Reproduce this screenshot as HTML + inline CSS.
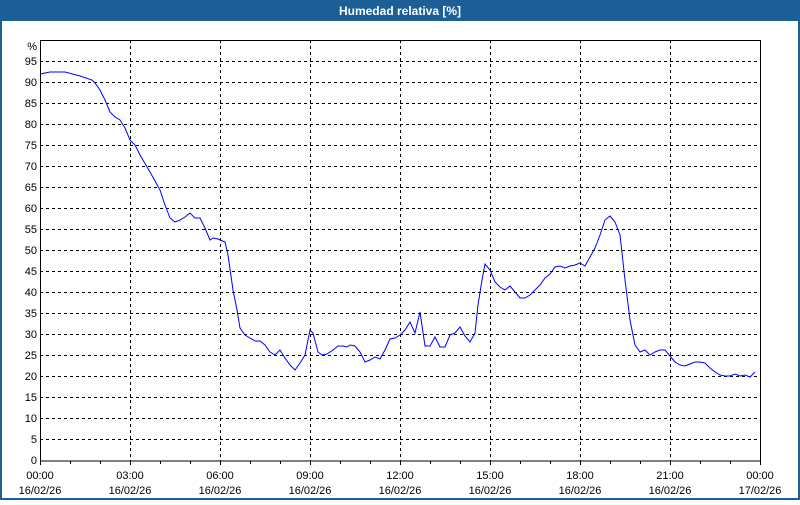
<!DOCTYPE html>
<html><head><meta charset="utf-8"><style>
html,body{margin:0;padding:0;background:#fff}
body{width:800px;height:500px;overflow:hidden;font-family:"Liberation Sans","DejaVu Sans",sans-serif}
</style></head><body>
<svg width="800" height="500" xmlns="http://www.w3.org/2000/svg" font-family="Liberation Sans, DejaVu Sans, sans-serif">
<rect x="0" y="0" width="800" height="500" fill="#1c5f96"/>
<rect x="2" y="21" width="796" height="477" fill="#fff"/>
<text x="400" y="15" fill="#fff" font-size="12" font-weight="bold" text-anchor="middle">Humedad relativa [%]</text>
<g stroke="#000" stroke-width="1" stroke-dasharray="3,3" shape-rendering="crispEdges">
<line x1="40" y1="61.5" x2="760" y2="61.5"/><line x1="40" y1="82.5" x2="760" y2="82.5"/><line x1="40" y1="103.5" x2="760" y2="103.5"/><line x1="40" y1="124.5" x2="760" y2="124.5"/><line x1="40" y1="145.5" x2="760" y2="145.5"/><line x1="40" y1="166.5" x2="760" y2="166.5"/><line x1="40" y1="187.5" x2="760" y2="187.5"/><line x1="40" y1="208.5" x2="760" y2="208.5"/><line x1="40" y1="229.5" x2="760" y2="229.5"/><line x1="40" y1="250.5" x2="760" y2="250.5"/><line x1="40" y1="271.5" x2="760" y2="271.5"/><line x1="40" y1="292.5" x2="760" y2="292.5"/><line x1="40" y1="313.5" x2="760" y2="313.5"/><line x1="40" y1="334.5" x2="760" y2="334.5"/><line x1="40" y1="355.5" x2="760" y2="355.5"/><line x1="40" y1="376.5" x2="760" y2="376.5"/><line x1="40" y1="397.5" x2="760" y2="397.5"/><line x1="40" y1="418.5" x2="760" y2="418.5"/><line x1="40" y1="439.5" x2="760" y2="439.5"/>
<line x1="130.5" y1="40" x2="130.5" y2="461"/><line x1="220.5" y1="40" x2="220.5" y2="461"/><line x1="310.5" y1="40" x2="310.5" y2="461"/><line x1="400.5" y1="40" x2="400.5" y2="461"/><line x1="490.5" y1="40" x2="490.5" y2="461"/><line x1="580.5" y1="40" x2="580.5" y2="461"/><line x1="670.5" y1="40" x2="670.5" y2="461"/>
</g>
<rect x="40.5" y="40.5" width="720" height="420.5" fill="none" stroke="#000" shape-rendering="crispEdges"/>
<g stroke="#000" shape-rendering="crispEdges">
<line x1="40.5" y1="461" x2="40.5" y2="465"/><line x1="70.5" y1="461" x2="70.5" y2="464"/><line x1="100.5" y1="461" x2="100.5" y2="464"/><line x1="130.5" y1="461" x2="130.5" y2="465"/><line x1="160.5" y1="461" x2="160.5" y2="464"/><line x1="190.5" y1="461" x2="190.5" y2="464"/><line x1="220.5" y1="461" x2="220.5" y2="465"/><line x1="250.5" y1="461" x2="250.5" y2="464"/><line x1="280.5" y1="461" x2="280.5" y2="464"/><line x1="310.5" y1="461" x2="310.5" y2="465"/><line x1="340.5" y1="461" x2="340.5" y2="464"/><line x1="370.5" y1="461" x2="370.5" y2="464"/><line x1="400.5" y1="461" x2="400.5" y2="465"/><line x1="430.5" y1="461" x2="430.5" y2="464"/><line x1="460.5" y1="461" x2="460.5" y2="464"/><line x1="490.5" y1="461" x2="490.5" y2="465"/><line x1="520.5" y1="461" x2="520.5" y2="464"/><line x1="550.5" y1="461" x2="550.5" y2="464"/><line x1="580.5" y1="461" x2="580.5" y2="465"/><line x1="610.5" y1="461" x2="610.5" y2="464"/><line x1="640.5" y1="461" x2="640.5" y2="464"/><line x1="670.5" y1="461" x2="670.5" y2="465"/><line x1="700.5" y1="461" x2="700.5" y2="464"/><line x1="730.5" y1="461" x2="730.5" y2="464"/><line x1="760.5" y1="461" x2="760.5" y2="465"/>
</g>
<g font-size="11" fill="#000" text-anchor="end">
<text x="37" y="50">%</text>
<text x="37" y="65">95</text><text x="37" y="86">90</text><text x="37" y="107">85</text><text x="37" y="128">80</text><text x="37" y="149">75</text><text x="37" y="170">70</text><text x="37" y="191">65</text><text x="37" y="212">60</text><text x="37" y="233">55</text><text x="37" y="254">50</text><text x="37" y="275">45</text><text x="37" y="296">40</text><text x="37" y="317">35</text><text x="37" y="338">30</text><text x="37" y="359">25</text><text x="37" y="380">20</text><text x="37" y="401">15</text><text x="37" y="422">10</text><text x="37" y="443">5</text><text x="37" y="464">0</text>
</g>
<g font-size="11" fill="#000" text-anchor="middle">
<text x="40" y="479">00:00</text><text x="40" y="494">16/02/26</text>
<text x="130" y="479">03:00</text><text x="130" y="494">16/02/26</text>
<text x="220" y="479">06:00</text><text x="220" y="494">16/02/26</text>
<text x="310" y="479">09:00</text><text x="310" y="494">16/02/26</text>
<text x="400" y="479">12:00</text><text x="400" y="494">16/02/26</text>
<text x="490" y="479">15:00</text><text x="490" y="494">16/02/26</text>
<text x="580" y="479">18:00</text><text x="580" y="494">16/02/26</text>
<text x="670" y="479">21:00</text><text x="670" y="494">16/02/26</text>
<text x="760" y="479">00:00</text><text x="760" y="494">17/02/26</text>
</g>
<polyline fill="none" stroke="#0000ff" stroke-width="1" points="40,74 50,72 65,72 80,76 92,80 95,83 100,90 105,100 110,112 115,117 120,120 125,128 130,140 135,145 140,155 150,172 160,190 165,205 170,218 175,222 180,220 185,217 190,213 195,218 200,218 205,228 210,240 213,238 218,239 225,242 228,255 233,290 237,310 240,328 245,335 250,338 255,341 260,341 265,345 270,352 275,355 280,350 285,358 290,365 295,370 300,363 305,355 310,330 313,333 318,352 322,355 327,354 333,350 338,346 343,346 347,347 350,345 355,346 360,352 365,362 370,360 375,357 380,359 385,350 390,339 395,338 400,335 405,330 410,322 415,333 420,312 425,346 430,346 435,337 440,347 445,347 450,335 455,333 460,327 465,336 470,342 475,333 478,305 482,280 485,264 490,270 495,282 500,287 505,290 510,286 515,292 520,298 525,298 530,295 535,290 540,285 545,278 550,274 555,267 560,266 565,268 570,266 575,265 580,263 585,266 590,257 595,248 600,235 605,220 610,216 615,222 620,235 625,280 630,320 635,345 640,352 645,350 650,355 655,352 660,350 665,350 670,356 675,362 680,365 685,366 690,364 695,362 700,362 705,363 710,368 715,372 720,375 725,376 730,376 735,374 740,376 745,375 750,377 755,372"/>
</svg>
</body></html>
